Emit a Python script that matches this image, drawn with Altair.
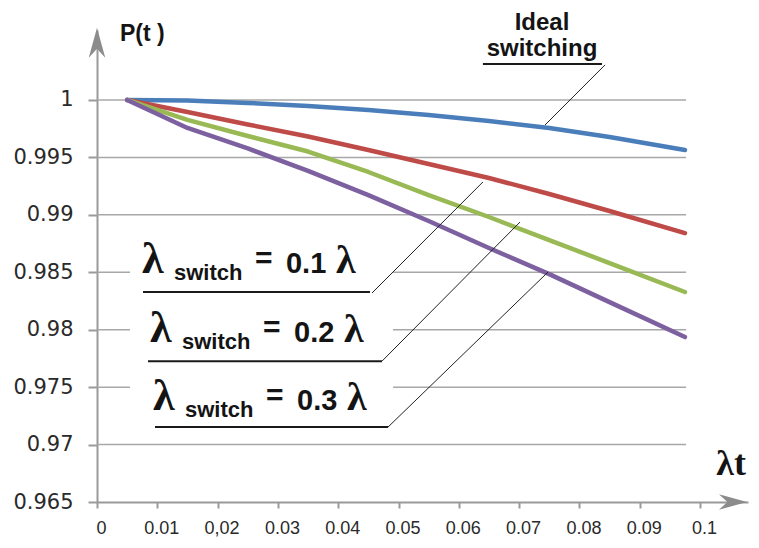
import json
import altair as alt
import pandas as pd

# ---------------- data ----------------
lt = [0.005, 0.015, 0.025, 0.035, 0.045, 0.055, 0.065, 0.075, 0.085, 0.0975]
p_ideal = [1.0, 0.99996, 0.99974, 0.99948, 0.99913, 0.99869, 0.99817, 0.99756, 0.99678, 0.99564]
p_sw01 = [1.0, 0.99895, 0.99787, 0.99682, 0.99564, 0.99443, 0.99321, 0.99181, 0.99033, 0.98841]
p_sw02 = [1.0, 0.99826, 0.99686, 0.99551, 0.99373, 0.99172, 0.98981, 0.98780, 0.98580, 0.98328]
p_sw03 = [1.0, 0.99756, 0.99578, 0.99382, 0.99172, 0.98946, 0.98711, 0.98484, 0.98240, 0.97936]

series_names = ["Ideal switching", "λswitch = 0.1 λ", "λswitch = 0.2 λ", "λswitch = 0.3 λ"]
series_colors = ["#4a7ebb", "#be4b48", "#98b954", "#7d60a0"]

x_ticks = [0, 0.01, 0.02, 0.03, 0.04, 0.05, 0.06, 0.07, 0.08, 0.09, 0.1]
x_tick_labels = ["0", "0.01", "0,02", "0.03", "0.04", "0.05", "0.06", "0.07", "0.08", "0.09", "0.1"]
y_ticks = [0.965, 0.97, 0.975, 0.98, 0.985, 0.99, 0.995, 1.0]
grid_vals = [0.97, 0.975, 0.98, 0.985, 0.99, 0.995, 1.0]

X_MAX = 0.10796
Y_MIN, Y_MAX = 0.965, 1.00609
GRID_END = 0.0977

# annotation anchors (data units)
lab_x = [0.00746, 0.00879, 0.00929]
lab_y = [0.98493, 0.97892, 0.97300]
lab_num = ["0.1", "0.2", "0.3"]

box_x1 = [0.00547, 0.00547, 0.00547]
box_x2 = [0.0491, 0.0491, 0.0491]
box_y1 = [0.98345, 0.97779, 0.97213]
box_y2 = [0.98780, 0.98214, 0.97648]

ul_x1 = [0.0640, 0.00763, 0.00846, 0.00962]
ul_x2 = [0.08375, 0.04527, 0.04726, 0.04826]
ul_y = [1.003136, 0.98328, 0.97726, 0.97152]

lead_x1 = [0.08425, 0.0456, 0.04726, 0.04826]
lead_y1 = [1.00305, 0.98319, 0.97726, 0.97152]
lead_x2 = [0.0743, 0.0640, 0.07015, 0.0748]
lead_y2 = [0.99782, 0.99286, 0.98937, 0.98502]

ideal_text = ["Ideal", "switching"]
ideal_x = [0.0738, 0.0738]
ideal_y = [1.00610, 1.00383]

# ---------------- tables ----------------
rows = []
for name, vals in zip(series_names, [p_ideal, p_sw01, p_sw02, p_sw03]):
    for t, v in zip(lt, vals):
        rows.append({"x": t, "y": v, "series": name})
lines_df = pd.DataFrame(rows)
grid_df = pd.DataFrame({"y": grid_vals, "x": [0] * len(grid_vals), "x2": [GRID_END] * len(grid_vals)})
box_df = pd.DataFrame({"x": box_x1, "x2": box_x2, "y": box_y1, "y2": box_y2})
ul_df = pd.DataFrame({"x": ul_x1, "x2": ul_x2, "y": ul_y})
lead_df = pd.DataFrame({"x": lead_x1, "y": lead_y1, "x2": lead_x2, "y2": lead_y2})
lab_df = pd.DataFrame({"x": lab_x, "y": lab_y, "num": lab_num})
ideal_df = pd.DataFrame({"x": ideal_x, "y": ideal_y, "t": ideal_text})
ptitle_df = pd.DataFrame({"x": [0.00381], "y": [1.00514], "t": ["P(t )"]})
lt_df = pd.DataFrame({"x": [0.1027], "y": [0.96733], "t": ["λt"]})
xarrow_df = pd.DataFrame({"x": [0.10547], "y": [0.965]})
yarrow_df = pd.DataFrame({"x": [0.0], "y": [1.00497]})

# ---------------- scales / axes ----------------
label_expr = json.dumps(x_tick_labels) + "[round(datum.value*100)]"
xs = alt.Scale(domain=[0, X_MAX], nice=False, zero=False)
ys = alt.Scale(domain=[Y_MIN, Y_MAX], nice=False, zero=False)
xaxis = alt.Axis(values=x_ticks, labelExpr=label_expr, grid=False, title=None,
                 domainColor="#9a9a9a", domainWidth=2, tickColor="#9a9a9a", tickWidth=2,
                 tickSize=6, labelFont="Liberation Sans", labelFontSize=18, labelColor="#2a2a2a",
                 labelPadding=11, labelOffset=4, labelFlush=False, labelOverlap=False)
yaxis = alt.Axis(values=y_ticks, format=".3~f", grid=False, title=None,
                 domainColor="#9a9a9a", domainWidth=2, tickColor="#9a9a9a", tickWidth=2,
                 tickSize=9, labelFont="DejaVu Sans", labelFontSize=21, labelColor="#2a2a2a",
                 labelPadding=15, labelFlush=False, labelOverlap=False)

X = lambda f="x": alt.X(f"{f}:Q", scale=xs, axis=xaxis)
Y = lambda f="y": alt.Y(f"{f}:Q", scale=ys, axis=yaxis)

grid = alt.Chart(grid_df).mark_rule(color="#a8a8a8", strokeWidth=1.5).encode(
    x=X(), x2="x2:Q", y=Y())

boxes = alt.Chart(box_df).mark_rect(color="white").encode(
    x=X(), x2="x2:Q", y=Y(), y2="y2:Q")

lines = alt.Chart(lines_df).mark_line(strokeWidth=4.5, strokeCap="round", strokeJoin="round").encode(
    x=X(), y=Y(),
    color=alt.Color("series:N", scale=alt.Scale(domain=series_names, range=series_colors), legend=None))

leaders = alt.Chart(lead_df).mark_rule(color="#222222", strokeWidth=1).encode(
    x=X(), y=Y(), x2="x2:Q", y2="y2:Q")

underlines = alt.Chart(ul_df).mark_rule(color="#1a1a1a", strokeWidth=2).encode(
    x=X(), x2="x2:Q", y=Y())

txt_color = "#141414"
lam1 = alt.Chart(lab_df).mark_text(text="λ", align="left", baseline="alphabetic", font="Liberation Serif",
                                   fontWeight="bold", fontSize=44, color=txt_color).encode(x=X(), y=Y())
sub = alt.Chart(lab_df).mark_text(text="switch", align="left", baseline="alphabetic", font="Liberation Sans",
                                  fontWeight="bold", fontSize=22, dx=32, dy=7, color=txt_color).encode(x=X(), y=Y())
eq = alt.Chart(lab_df).mark_text(text="=", align="left", baseline="alphabetic", font="Liberation Sans",
                                 fontWeight="bold", fontSize=30, dx=113, dy=-5, color=txt_color).encode(x=X(), y=Y())
num = alt.Chart(lab_df).mark_text(align="left", baseline="alphabetic", font="Liberation Sans",
                                  fontWeight="bold", fontSize=29, dx=144, color=txt_color).encode(
    x=X(), y=Y(), text="num:N")
lam2 = alt.Chart(lab_df).mark_text(text="λ", align="left", baseline="alphabetic", font="Liberation Serif",
                                   fontWeight="bold", fontSize=40, dx=194, color=txt_color).encode(x=X(), y=Y())

ideal_lbl = alt.Chart(ideal_df).mark_text(align="center", baseline="alphabetic", font="Liberation Sans",
                                          fontWeight="bold", fontSize=24, color=txt_color).encode(
    x=X(), y=Y(), text="t:N")
ptitle = alt.Chart(ptitle_df).mark_text(align="left", baseline="alphabetic", font="Liberation Sans",
                                        fontWeight="bold", fontSize=23, color=txt_color).encode(
    x=X(), y=Y(), text="t:N")
lt_lbl = alt.Chart(lt_df).mark_text(align="left", baseline="alphabetic", font="Liberation Serif",
                                    fontWeight="bold", fontSize=36, color=txt_color).encode(
    x=X(), y=Y(), text="t:N")

xarrow = alt.Chart(xarrow_df).mark_point(shape="M1,0 L-1,-0.55 L-0.4,0 L-1,0.55 Z", filled=True,
                                         size=784, color="#8c8c8c", opacity=1).encode(x=X(), y=Y())
yarrow = alt.Chart(yarrow_df).mark_point(shape="M0,-1 L0.55,1 L0,0.4 L-0.55,1 Z", filled=True,
                                         size=900, color="#8c8c8c", opacity=1).encode(x=X(), y=Y())

chart = alt.layer(
    grid, boxes, lines, leaders, underlines, lam1, sub, eq, num, lam2,
    ideal_lbl, ptitle, lt_lbl, xarrow, yarrow
).properties(
    width=651, height=472,
    padding={"left": 89, "top": 22, "right": 3, "bottom": 36},
    autosize=alt.AutoSizeParams(type="none"),
    background="white",
).configure_view(stroke=None)

chart.save("out.html", embed_options={"renderer": "svg", "actions": False})
